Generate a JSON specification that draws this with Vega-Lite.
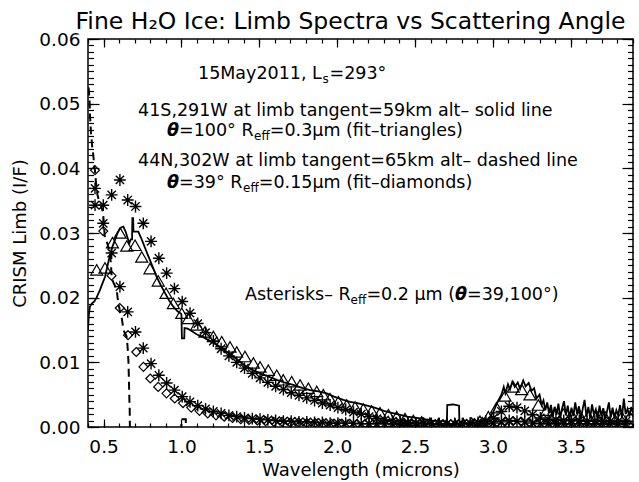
{
  "$schema": "https://vega.github.io/schema/vega-lite/v6.json",
  "width": 545,
  "height": 388,
  "autosize": {"type": "none"},
  "padding": {"left": 88, "top": 39, "right": 6, "bottom": 55},
  "background": "white",
  "title": {"text": "Fine H₂O Ice: Limb Spectra vs Scattering Angle", "font": "DejaVu Sans", "fontSize": 23.5, "fontWeight": "normal", "color": "black", "offset": -3, "anchor": "middle", "dx": -10},
  "config": {
    "view": {"stroke": "black", "strokeWidth": 1.5},
    "axis": {"domain": false, "grid": false, "labelFont": "DejaVu Sans", "labelFontSize": 18.5, "labelColor": "black", "tickColor": "black", "tickWidth": 1.2, "titleFont": "DejaVu Sans", "titleFontSize": 18, "titleFontWeight": "normal", "titleColor": "black", "labelOverlap": false}
  },
  "datasets": {
    "solid": [
      {"x":0.400,"y":0.0150},{"x":0.405,"y":0.0172},{"x":0.412,"y":0.0186},{"x":0.424,"y":0.0191},{"x":0.440,"y":0.0194},{"x":0.455,"y":0.0200},{"x":0.477,"y":0.0212},{"x":0.493,"y":0.0222},{"x":0.509,"y":0.0232},{"x":0.525,"y":0.0249},{"x":0.541,"y":0.0266},{"x":0.557,"y":0.0279},{"x":0.573,"y":0.0289},{"x":0.590,"y":0.0300},{"x":0.601,"y":0.0305},{"x":0.615,"y":0.0309},{"x":0.627,"y":0.0310},{"x":0.642,"y":0.0302},{"x":0.655,"y":0.0292},{"x":0.665,"y":0.0284},{"x":0.675,"y":0.0290},{"x":0.683,"y":0.0290},{"x":0.685,"y":0.0323},{"x":0.690,"y":0.0323},{"x":0.692,"y":0.0302},{"x":0.702,"y":0.0302},{"x":0.723,"y":0.0302},{"x":0.740,"y":0.0293},{"x":0.755,"y":0.0284},{"x":0.776,"y":0.0271},{"x":0.798,"y":0.0258},{"x":0.820,"y":0.0245},{"x":0.841,"y":0.0232},{"x":0.868,"y":0.0219},{"x":0.895,"y":0.0207},{"x":0.920,"y":0.0196},{"x":0.948,"y":0.0186},{"x":0.975,"y":0.0179},{"x":0.998,"y":0.0175},{"x":1.000,"y":0.0174},{"x":1.003,"y":0.0137},{"x":1.018,"y":0.0137},{"x":1.020,"y":0.0153},{"x":1.040,"y":0.0152},{"x":1.055,"y":0.0150},{"x":1.080,"y":0.0146},{"x":1.100,"y":0.0143},{"x":1.140,"y":0.0139},{"x":1.190,"y":0.0132},{"x":1.248,"y":0.0124},{"x":1.300,"y":0.0115},{"x":1.333,"y":0.0109},{"x":1.380,"y":0.0100},{"x":1.419,"y":0.0093},{"x":1.460,"y":0.0088},{"x":1.505,"y":0.0083},{"x":1.560,"y":0.0078},{"x":1.612,"y":0.0073},{"x":1.660,"y":0.0069},{"x":1.718,"y":0.0065},{"x":1.770,"y":0.0061},{"x":1.826,"y":0.0057},{"x":1.880,"y":0.0055},{"x":1.933,"y":0.0052},{"x":1.980,"y":0.0047},{"x":2.040,"y":0.0042},{"x":2.083,"y":0.0039},{"x":2.130,"y":0.0037},{"x":2.180,"y":0.0034},{"x":2.240,"y":0.0030},{"x":2.300,"y":0.0025},{"x":2.350,"y":0.0022},{"x":2.400,"y":0.0019},{"x":2.450,"y":0.0016},{"x":2.513,"y":0.0014},{"x":2.560,"y":0.0012},{"x":2.610,"y":0.0010},{"x":2.667,"y":0.0009},{"x":2.705,"y":0.0008},{"x":2.707,"y":0.0034},{"x":2.745,"y":0.0035},{"x":2.783,"y":0.0033},{"x":2.785,"y":0.0007},{"x":2.830,"y":0.0006},{"x":2.880,"y":0.0005},{"x":2.930,"y":0.0007},{"x":2.970,"y":0.0012},{"x":3.000,"y":0.0022},{"x":3.033,"y":0.0040},{"x":3.055,"y":0.0050},{"x":3.070,"y":0.0062},{"x":3.080,"y":0.0052},{"x":3.097,"y":0.0066},{"x":3.110,"y":0.0058},{"x":3.125,"y":0.0070},{"x":3.141,"y":0.0062},{"x":3.160,"y":0.0069},{"x":3.175,"y":0.0059},{"x":3.195,"y":0.0072},{"x":3.210,"y":0.0063},{"x":3.230,"y":0.0068},{"x":3.248,"y":0.0056},{"x":3.265,"y":0.0060},{"x":3.280,"y":0.0044},{"x":3.300,"y":0.0050},{"x":3.313,"y":0.0034},{"x":3.325,"y":0.0041},{"x":3.337,"y":0.0026},{"x":3.349,"y":0.0038},{"x":3.361,"y":0.0021},{"x":3.373,"y":0.0034},{"x":3.385,"y":0.0016},{"x":3.397,"y":0.0031},{"x":3.409,"y":0.0019},{"x":3.421,"y":0.0036},{"x":3.433,"y":0.0014},{"x":3.445,"y":0.0029},{"x":3.457,"y":0.0040},{"x":3.469,"y":0.0018},{"x":3.481,"y":0.0033},{"x":3.493,"y":0.0013},{"x":3.505,"y":0.0030},{"x":3.517,"y":0.0017},{"x":3.529,"y":0.0038},{"x":3.541,"y":0.0020},{"x":3.553,"y":0.0032},{"x":3.565,"y":0.0012},{"x":3.577,"y":0.0028},{"x":3.589,"y":0.0042},{"x":3.601,"y":0.0016},{"x":3.613,"y":0.0031},{"x":3.625,"y":0.0014},{"x":3.637,"y":0.0035},{"x":3.649,"y":0.0019},{"x":3.661,"y":0.0027},{"x":3.673,"y":0.0011},{"x":3.685,"y":0.0033},{"x":3.697,"y":0.0017},{"x":3.709,"y":0.0029},{"x":3.721,"y":0.0012},{"x":3.733,"y":0.0024},{"x":3.745,"y":0.0038},{"x":3.757,"y":0.0015},{"x":3.769,"y":0.0030},{"x":3.781,"y":0.0013},{"x":3.793,"y":0.0026},{"x":3.805,"y":0.0018},{"x":3.817,"y":0.0034},{"x":3.829,"y":0.0014},{"x":3.841,"y":0.0044},{"x":3.853,"y":0.0020},{"x":3.865,"y":0.0028},{"x":3.877,"y":0.0016},{"x":3.889,"y":0.0031},{"x":3.900,"y":0.0022}
    ],
    "dashed": [
      {"x":0.404,"y":0.0525},{"x":0.410,"y":0.0505},{"x":0.413,"y":0.0480},{"x":0.416,"y":0.0470},{"x":0.419,"y":0.0455},{"x":0.422,"y":0.0448},{"x":0.425,"y":0.0440},{"x":0.428,"y":0.0430},{"x":0.432,"y":0.0425},{"x":0.436,"y":0.0415},{"x":0.440,"y":0.0405},{"x":0.444,"y":0.0398},{"x":0.448,"y":0.0388},{"x":0.452,"y":0.0375},{"x":0.456,"y":0.0370},{"x":0.460,"y":0.0360},{"x":0.465,"y":0.0355},{"x":0.470,"y":0.0350},{"x":0.475,"y":0.0347},{"x":0.480,"y":0.0345},{"x":0.486,"y":0.0340},{"x":0.492,"y":0.0336},{"x":0.497,"y":0.0330},{"x":0.502,"y":0.0315},{"x":0.507,"y":0.0296},{"x":0.515,"y":0.0290},{"x":0.525,"y":0.0283},{"x":0.535,"y":0.0275},{"x":0.541,"y":0.0268},{"x":0.548,"y":0.0250},{"x":0.552,"y":0.0232},{"x":0.560,"y":0.0225},{"x":0.570,"y":0.0220},{"x":0.578,"y":0.0216},{"x":0.584,"y":0.0212},{"x":0.590,"y":0.0200},{"x":0.596,"y":0.0190},{"x":0.603,"y":0.0182},{"x":0.610,"y":0.0175},{"x":0.616,"y":0.0170},{"x":0.622,"y":0.0160},{"x":0.628,"y":0.0150},{"x":0.635,"y":0.0146},{"x":0.642,"y":0.0143},{"x":0.648,"y":0.0140},{"x":0.652,"y":0.0130},{"x":0.656,"y":0.0118},{"x":0.660,"y":0.0100},{"x":0.662,"y":0.0080},{"x":0.664,"y":0.0060},{"x":0.666,"y":0.0040},{"x":0.668,"y":0.0025},{"x":0.670,"y":-0.0030},{"x":0.998,"y":-0.0030},{"x":1.000,"y":0.0012},{"x":1.028,"y":0.0012},{"x":1.030,"y":-0.0030},{"x":3.900,"y":-0.0030}
    ],
    "tri": [
      {"x":0.456,"y":0.0243},{"x":0.509,"y":0.0246},{"x":0.557,"y":0.0285},{"x":0.606,"y":0.0300},{"x":0.649,"y":0.0280},{"x":0.702,"y":0.0281},{"x":0.745,"y":0.0263},{"x":0.798,"y":0.0245},{"x":0.851,"y":0.0226},{"x":0.901,"y":0.0207},{"x":0.948,"y":0.0191},{"x":1.002,"y":0.0176},{"x":1.044,"y":0.0168},{"x":1.098,"y":0.0158},{"x":1.151,"y":0.0147},{"x":1.205,"y":0.0140},{"x":1.259,"y":0.0132},{"x":1.312,"y":0.0124},{"x":1.355,"y":0.0116},{"x":1.408,"y":0.0109},{"x":1.462,"y":0.0099},{"x":1.505,"y":0.0093},{"x":1.558,"y":0.0088},{"x":1.612,"y":0.0080},{"x":1.654,"y":0.0073},{"x":1.708,"y":0.0070},{"x":1.762,"y":0.0065},{"x":1.815,"y":0.0060},{"x":1.869,"y":0.0055},{"x":1.911,"y":0.0050},{"x":1.954,"y":0.0044},{"x":2.008,"y":0.0039},{"x":2.061,"y":0.0034},{"x":2.115,"y":0.0031},{"x":2.168,"y":0.0028},{"x":2.222,"y":0.0025},{"x":2.275,"y":0.0022},{"x":2.329,"y":0.0019},{"x":2.382,"y":0.0016},{"x":2.436,"y":0.0013},{"x":2.489,"y":0.0010},{"x":2.543,"y":0.0008},{"x":2.596,"y":0.0006},{"x":2.650,"y":0.0005},{"x":2.703,"y":0.0004},{"x":2.757,"y":0.0004},{"x":2.810,"y":0.0005},{"x":2.864,"y":0.0006},{"x":2.917,"y":0.0009},{"x":2.971,"y":0.0016},{"x":3.024,"y":0.0030},{"x":3.078,"y":0.0048},{"x":3.131,"y":0.0062},{"x":3.185,"y":0.0058},{"x":3.238,"y":0.0050},{"x":3.292,"y":0.0034},{"x":3.345,"y":0.0026},{"x":3.399,"y":0.0022},{"x":3.452,"y":0.0020},{"x":3.506,"y":0.0019},{"x":3.559,"y":0.0018},{"x":3.613,"y":0.0017},{"x":3.666,"y":0.0017},{"x":3.720,"y":0.0016},{"x":3.773,"y":0.0016},{"x":3.827,"y":0.0016},{"x":3.880,"y":0.0016}
    ],
    "dia": [
      {"x":0.445,"y":0.0397},{"x":0.498,"y":0.0303},{"x":0.551,"y":0.0234},{"x":0.604,"y":0.0184},{"x":0.657,"y":0.0142},{"x":0.710,"y":0.0116},{"x":0.756,"y":0.0093},{"x":0.800,"y":0.0075},{"x":0.851,"y":0.0062},{"x":0.904,"y":0.0052},{"x":0.957,"y":0.0044},{"x":1.010,"y":0.0037},{"x":1.063,"y":0.0030},{"x":1.116,"y":0.0025},{"x":1.169,"y":0.0021},{"x":1.222,"y":0.0018},{"x":1.275,"y":0.0016},{"x":1.328,"y":0.0014},{"x":1.381,"y":0.0012},{"x":1.434,"y":0.0011},{"x":1.487,"y":0.0010},{"x":1.540,"y":0.0009},{"x":1.593,"y":0.0008},{"x":1.646,"y":0.0008},{"x":1.699,"y":0.0007},{"x":1.752,"y":0.0007},{"x":1.805,"y":0.0006},{"x":1.858,"y":0.0006},{"x":1.911,"y":0.0005},{"x":1.964,"y":0.0005},{"x":2.017,"y":0.0005},{"x":2.070,"y":0.0004},{"x":2.123,"y":0.0004},{"x":2.176,"y":0.0004},{"x":2.229,"y":0.0004},{"x":2.282,"y":0.0003},{"x":2.335,"y":0.0003},{"x":2.388,"y":0.0003},{"x":2.441,"y":0.0003},{"x":2.494,"y":0.0003},{"x":2.547,"y":0.0003},{"x":2.600,"y":0.0003},{"x":2.653,"y":0.0003},{"x":2.706,"y":0.0003},{"x":2.759,"y":0.0003},{"x":2.812,"y":0.0003},{"x":2.865,"y":0.0003},{"x":2.918,"y":0.0004},{"x":2.971,"y":0.0005},{"x":3.024,"y":0.0006},{"x":3.077,"y":0.0008},{"x":3.130,"y":0.0009},{"x":3.183,"y":0.0008},{"x":3.236,"y":0.0006},{"x":3.289,"y":0.0005},{"x":3.342,"y":0.0004},{"x":3.395,"y":0.0004},{"x":3.448,"y":0.0004},{"x":3.501,"y":0.0003},{"x":3.554,"y":0.0003},{"x":3.607,"y":0.0003},{"x":3.660,"y":0.0003},{"x":3.713,"y":0.0003},{"x":3.766,"y":0.0003},{"x":3.819,"y":0.0003},{"x":3.872,"y":0.0003}
    ],
    "ast": [
      {"s":"100","x":0.445,"y":0.0343},{"s":"100","x":0.498,"y":0.0343},{"s":"100","x":0.552,"y":0.0359},{"s":"100","x":0.605,"y":0.0382},{"s":"100","x":0.655,"y":0.0351},{"s":"100","x":0.705,"y":0.0341},{"s":"100","x":0.755,"y":0.0315},{"s":"100","x":0.805,"y":0.0287},{"s":"100","x":0.855,"y":0.0261},{"s":"100","x":0.905,"y":0.0238},{"s":"100","x":0.955,"y":0.0214},{"s":"100","x":1.005,"y":0.0194},{"s":"100","x":1.055,"y":0.0176},{"s":"100","x":1.105,"y":0.0160},{"s":"100","x":1.155,"y":0.0146},{"s":"100","x":1.205,"y":0.0133},{"s":"100","x":1.255,"y":0.0121},{"s":"100","x":1.305,"y":0.0110},{"s":"100","x":1.355,"y":0.0100},{"s":"100","x":1.405,"y":0.0091},{"s":"100","x":1.455,"y":0.0083},{"s":"100","x":1.505,"y":0.0076},{"s":"100","x":1.555,"y":0.0069},{"s":"100","x":1.605,"y":0.0063},{"s":"100","x":1.655,"y":0.0058},{"s":"100","x":1.705,"y":0.0053},{"s":"100","x":1.755,"y":0.0049},{"s":"100","x":1.805,"y":0.0045},{"s":"100","x":1.855,"y":0.0041},{"s":"100","x":1.905,"y":0.0037},{"s":"100","x":1.955,"y":0.0034},{"s":"100","x":2.005,"y":0.0030},{"s":"100","x":2.055,"y":0.0027},{"s":"100","x":2.105,"y":0.0023},{"s":"100","x":2.155,"y":0.0020},{"s":"100","x":2.205,"y":0.0016},{"s":"100","x":2.255,"y":0.0013},{"s":"100","x":2.305,"y":0.0011},{"s":"100","x":2.355,"y":0.0009},{"s":"100","x":2.405,"y":0.0008},{"s":"100","x":2.455,"y":0.0007},{"s":"100","x":2.505,"y":0.0006},{"s":"100","x":2.555,"y":0.0006},{"s":"100","x":2.605,"y":0.0005},{"s":"100","x":2.655,"y":0.0005},{"s":"100","x":2.705,"y":0.0005},{"s":"100","x":2.755,"y":0.0005},{"s":"100","x":2.805,"y":0.0005},{"s":"100","x":2.855,"y":0.0006},{"s":"100","x":2.905,"y":0.0007},{"s":"100","x":2.955,"y":0.0009},{"s":"100","x":3.005,"y":0.0014},{"s":"100","x":3.055,"y":0.0024},{"s":"100","x":3.105,"y":0.0032},{"s":"100","x":3.155,"y":0.0030},{"s":"100","x":3.205,"y":0.0025},{"s":"100","x":3.255,"y":0.0019},{"s":"100","x":3.305,"y":0.0014},{"s":"100","x":3.355,"y":0.0012},{"s":"100","x":3.405,"y":0.0011},{"s":"100","x":3.455,"y":0.0010},{"s":"100","x":3.505,"y":0.0010},{"s":"100","x":3.555,"y":0.0010},{"s":"100","x":3.605,"y":0.0009},{"s":"100","x":3.655,"y":0.0009},{"s":"100","x":3.705,"y":0.0009},{"s":"100","x":3.755,"y":0.0009},{"s":"100","x":3.805,"y":0.0009},{"s":"100","x":3.855,"y":0.0009},
      {"s":"39","x":0.445,"y":0.0369},{"s":"39","x":0.498,"y":0.0315},{"s":"39","x":0.552,"y":0.0269},{"s":"39","x":0.605,"y":0.0217},{"s":"39","x":0.655,"y":0.0178},{"s":"39","x":0.705,"y":0.0147},{"s":"39","x":0.755,"y":0.0122},{"s":"39","x":0.805,"y":0.0098},{"s":"39","x":0.855,"y":0.0080},{"s":"39","x":0.905,"y":0.0068},{"s":"39","x":0.955,"y":0.0057},{"s":"39","x":1.005,"y":0.0047},{"s":"39","x":1.055,"y":0.0039},{"s":"39","x":1.105,"y":0.0033},{"s":"39","x":1.155,"y":0.0028},{"s":"39","x":1.205,"y":0.0024},{"s":"39","x":1.255,"y":0.0021},{"s":"39","x":1.305,"y":0.0018},{"s":"39","x":1.355,"y":0.0016},{"s":"39","x":1.405,"y":0.0014},{"s":"39","x":1.455,"y":0.0013},{"s":"39","x":1.505,"y":0.0012},{"s":"39","x":1.555,"y":0.0011},{"s":"39","x":1.605,"y":0.0010},{"s":"39","x":1.655,"y":0.0009},{"s":"39","x":1.705,"y":0.0009},{"s":"39","x":1.755,"y":0.0008},{"s":"39","x":1.805,"y":0.0008},{"s":"39","x":1.855,"y":0.0007},{"s":"39","x":1.905,"y":0.0007},{"s":"39","x":1.955,"y":0.0006},{"s":"39","x":2.005,"y":0.0006},{"s":"39","x":2.055,"y":0.0006},{"s":"39","x":2.105,"y":0.0006},{"s":"39","x":2.155,"y":0.0005},{"s":"39","x":2.205,"y":0.0005},{"s":"39","x":2.255,"y":0.0005},{"s":"39","x":2.305,"y":0.0005},{"s":"39","x":2.355,"y":0.0005},{"s":"39","x":2.405,"y":0.0005},{"s":"39","x":2.455,"y":0.0005},{"s":"39","x":2.505,"y":0.0005},{"s":"39","x":2.555,"y":0.0005},{"s":"39","x":2.605,"y":0.0005},{"s":"39","x":2.655,"y":0.0005},{"s":"39","x":2.705,"y":0.0005},{"s":"39","x":2.755,"y":0.0005},{"s":"39","x":2.805,"y":0.0005},{"s":"39","x":2.855,"y":0.0005},{"s":"39","x":2.905,"y":0.0005},{"s":"39","x":2.955,"y":0.0005},{"s":"39","x":3.005,"y":0.0006},{"s":"39","x":3.055,"y":0.0008},{"s":"39","x":3.105,"y":0.0010},{"s":"39","x":3.155,"y":0.0009},{"s":"39","x":3.205,"y":0.0008},{"s":"39","x":3.255,"y":0.0006},{"s":"39","x":3.305,"y":0.0005},{"s":"39","x":3.355,"y":0.0005},{"s":"39","x":3.405,"y":0.0005},{"s":"39","x":3.455,"y":0.0005},{"s":"39","x":3.505,"y":0.0005},{"s":"39","x":3.555,"y":0.0005},{"s":"39","x":3.605,"y":0.0005},{"s":"39","x":3.655,"y":0.0005},{"s":"39","x":3.705,"y":0.0005},{"s":"39","x":3.755,"y":0.0005},{"s":"39","x":3.805,"y":0.0005},{"s":"39","x":3.855,"y":0.0005}
    ],
    "main": [
      {"x":1.1064,"y":0.05381,"t":"15May2011, L"},
      {"x":1.9509,"y":0.05381,"t":"=293°"},
      {"x":0.7211,"y":0.04809,"t":"41S,291W at limb tangent=59km alt– solid line"},
      {"x":0.9844,"y":0.0450,"t":"=100° R"},
      {"x":1.5675,"y":0.0450,"t":"=0.3μm (fit–triangles)"},
      {"x":0.7211,"y":0.04036,"t":"44N,302W at limb tangent=65km alt– dashed line"},
      {"x":0.9844,"y":0.03696,"t":"=39° R"},
      {"x":1.4969,"y":0.03696,"t":"=0.15μm (fit–diamonds)"},
      {"x":1.4083,"y":0.01964,"t":"Asterisks– R"},
      {"x":2.1879,"y":0.01964,"t":"=0.2 μm ("},
      {"x":2.8340,"y":0.01964,"t":"=39,100°)"}
    ],
    "greek": [
      {"x":0.9073,"y":0.0450,"t":"θ"},
      {"x":0.9073,"y":0.03696,"t":"θ"},
      {"x":2.7569,"y":0.01964,"t":"θ"}
    ],
    "sub": [
      {"x":1.9060,"y":0.05320,"t":"s"},
      {"x":1.4661,"y":0.04438,"t":"eff"},
      {"x":1.3954,"y":0.03634,"t":"eff"},
      {"x":2.0864,"y":0.01902,"t":"eff"}
    ]
  },
  "layer": [
    {
      "data": {"name": "solid"},
      "mark": {"type": "line", "color": "black", "strokeWidth": 1.8, "clip": true},
      "encoding": {
        "x": {"field": "x", "type": "quantitative", "scale": {"domain": [0.4, 3.9], "nice": false, "zero": false},
              "axis": {"orient": "bottom", "values": [0.5,1.0,1.5,2.0,2.5,3.0,3.5], "format": ".1f", "tickSize": -8, "labelPadding": 18, "title": "Wavelength (microns)", "titlePadding": 6}},
        "y": {"field": "y", "type": "quantitative", "scale": {"domain": [0, 0.06], "nice": false, "zero": false},
              "axis": {"orient": "left", "values": [0,0.01,0.02,0.03,0.04,0.05,0.06], "format": ".2f", "tickSize": -11, "labelPadding": 19, "title": "CRISM Limb (I/F)", "titlePadding": 9}},
        "order": {"value": null}
      }
    },
    {
      "data": {"name": "dashed"},
      "mark": {"type": "line", "color": "black", "strokeWidth": 2, "strokeDash": [8, 5], "clip": true},
      "encoding": {
        "x": {"field": "x", "type": "quantitative", "scale": {"domain": [0.4, 3.9], "nice": false, "zero": false},
              "axis": {"orient": "top", "values": [0.5,1.0,1.5,2.0,2.5,3.0,3.5], "labels": false, "tickSize": -8, "title": null}},
        "y": {"field": "y", "type": "quantitative", "scale": {"domain": [0, 0.06], "nice": false, "zero": false},
              "axis": {"orient": "right", "values": [0,0.01,0.02,0.03,0.04,0.05,0.06], "labels": false, "tickSize": -11, "title": null}},
        "order": {"value": null}
      }
    },
    {
      "data": {"name": "tri"},
      "mark": {"type": "point", "shape": "triangle-up", "filled": false, "stroke": "black", "strokeWidth": 1.2, "size": 145, "opacity": 1, "clip": true},
      "encoding": {
        "x": {"field": "x", "type": "quantitative", "scale": {"domain": [0.4, 3.9], "nice": false, "zero": false},
              "axis": {"orient": "bottom", "values": [0.4,0.5,0.6,0.7,0.8,0.9,1.0,1.1,1.2,1.3,1.4,1.5,1.6,1.7,1.8,1.9,2.0,2.1,2.2,2.3,2.4,2.5,2.6,2.7,2.8,2.9,3.0,3.1,3.2,3.3,3.4,3.5,3.6,3.7,3.8,3.9], "labels": false, "tickSize": -4, "title": null}},
        "y": {"field": "y", "type": "quantitative", "scale": {"domain": [0, 0.06], "nice": false, "zero": false},
              "axis": {"orient": "left", "values": [0,0.001,0.002,0.003,0.004,0.005,0.006,0.007,0.008,0.009,0.01,0.011,0.012,0.013,0.014,0.015,0.016,0.017,0.018,0.019,0.02,0.021,0.022,0.023,0.024,0.025,0.026,0.027,0.028,0.029,0.03,0.031,0.032,0.033,0.034,0.035,0.036,0.037,0.038,0.039,0.04,0.041,0.042,0.043,0.044,0.045,0.046,0.047,0.048,0.049,0.05,0.051,0.052,0.053,0.054,0.055,0.056,0.057,0.058,0.059,0.06], "labels": false, "tickSize": -5.5, "title": null}}
      }
    },
    {
      "data": {"name": "dia"},
      "mark": {"type": "point", "shape": "diamond", "filled": false, "stroke": "black", "strokeWidth": 1.2, "size": 80, "opacity": 1, "clip": true},
      "encoding": {
        "x": {"field": "x", "type": "quantitative", "scale": {"domain": [0.4, 3.9], "nice": false, "zero": false},
              "axis": {"orient": "top", "values": [0.4,0.5,0.6,0.7,0.8,0.9,1.0,1.1,1.2,1.3,1.4,1.5,1.6,1.7,1.8,1.9,2.0,2.1,2.2,2.3,2.4,2.5,2.6,2.7,2.8,2.9,3.0,3.1,3.2,3.3,3.4,3.5,3.6,3.7,3.8,3.9], "labels": false, "tickSize": -4, "title": null}},
        "y": {"field": "y", "type": "quantitative", "scale": {"domain": [0, 0.06], "nice": false, "zero": false},
              "axis": {"orient": "right", "values": [0,0.001,0.002,0.003,0.004,0.005,0.006,0.007,0.008,0.009,0.01,0.011,0.012,0.013,0.014,0.015,0.016,0.017,0.018,0.019,0.02,0.021,0.022,0.023,0.024,0.025,0.026,0.027,0.028,0.029,0.03,0.031,0.032,0.033,0.034,0.035,0.036,0.037,0.038,0.039,0.04,0.041,0.042,0.043,0.044,0.045,0.046,0.047,0.048,0.049,0.05,0.051,0.052,0.053,0.054,0.055,0.056,0.057,0.058,0.059,0.06], "labels": false, "tickSize": -5.5, "title": null}}
      }
    },
    {
      "data": {"name": "ast"},
      "mark": {"type": "point", "shape": "M-1,0L1,0M0,-1L0,1M-0.7,-0.7L0.7,0.7M-0.7,0.7L0.7,-0.7", "filled": false, "stroke": "black", "strokeWidth": 1.4, "size": 140, "opacity": 1, "clip": true},
      "encoding": {
        "x": {"field": "x", "type": "quantitative", "scale": {"domain": [0.4, 3.9], "nice": false, "zero": false}, "axis": null},
        "y": {"field": "y", "type": "quantitative", "scale": {"domain": [0, 0.06], "nice": false, "zero": false}, "axis": null}
      }
    },
    {
      "data": {"name": "main"},
      "mark": {"type": "text", "align": "left", "baseline": "alphabetic", "font": "DejaVu Sans", "fontSize": 17.5, "color": "black"},
      "encoding": {
        "x": {"field": "x", "type": "quantitative", "scale": {"domain": [0.4, 3.9], "nice": false, "zero": false}, "axis": null},
        "y": {"field": "y", "type": "quantitative", "scale": {"domain": [0, 0.06], "nice": false, "zero": false}, "axis": null},
        "text": {"field": "t", "type": "nominal"}
      }
    },
    {
      "data": {"name": "greek"},
      "mark": {"type": "text", "align": "left", "baseline": "alphabetic", "font": "DejaVu Sans", "fontSize": 17.5, "fontWeight": "bold", "fontStyle": "italic", "color": "black"},
      "encoding": {
        "x": {"field": "x", "type": "quantitative", "scale": {"domain": [0.4, 3.9], "nice": false, "zero": false}, "axis": null},
        "y": {"field": "y", "type": "quantitative", "scale": {"domain": [0, 0.06], "nice": false, "zero": false}, "axis": null},
        "text": {"field": "t", "type": "nominal"}
      }
    },
    {
      "data": {"name": "sub"},
      "mark": {"type": "text", "align": "left", "baseline": "alphabetic", "font": "DejaVu Sans", "fontSize": 12, "color": "black"},
      "encoding": {
        "x": {"field": "x", "type": "quantitative", "scale": {"domain": [0.4, 3.9], "nice": false, "zero": false}, "axis": null},
        "y": {"field": "y", "type": "quantitative", "scale": {"domain": [0, 0.06], "nice": false, "zero": false}, "axis": null},
        "text": {"field": "t", "type": "nominal"}
      }
    }
  ],
  "resolve": {"axis": {"x": "independent", "y": "independent"}}
}
